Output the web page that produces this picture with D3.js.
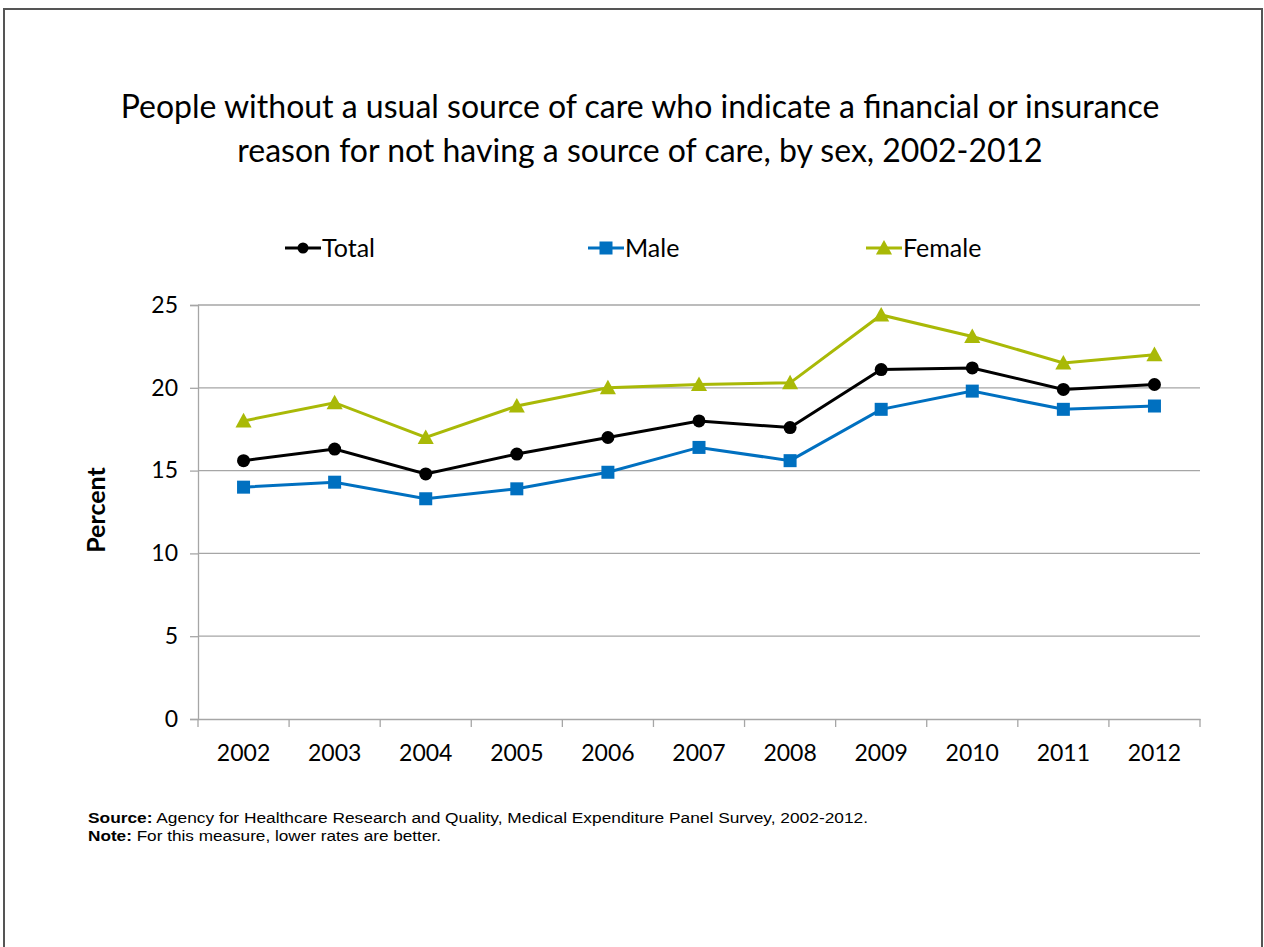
<!DOCTYPE html>
<html><head><meta charset="utf-8">
<script src="https://cdn.jsdelivr.net/npm/d3@7"></script>
<style>
html,body{margin:0;padding:0;background:#fff;}
svg{display:block;}
</style></head>
<body>
<svg id="chart" width="1264" height="947"></svg>
<script>
const years = ["2002","2003","2004","2005","2006","2007","2008","2009","2010","2011","2012"];
const totalValues  = [15.6,16.3,14.8,16.0,17.0,18.0,17.6,21.1,21.2,19.9,20.2];
const maleValues   = [14.0,14.3,13.3,13.9,14.9,16.4,15.6,18.7,19.8,18.7,18.9];
const femaleValues = [18.0,19.1,17.0,18.9,20.0,20.2,20.3,24.4,23.1,21.5,22.0];
const yTicks = [0,5,10,15,20,25];
const seriesNames = ["Total","Male","Female"];
const titleLines = ["People without a usual source of care who indicate a financial or insurance",
                    "reason for not having a source of care, by sex, 2002-2012"];

const series = [
  {name: seriesNames[0], values: totalValues,  color: "#000000", marker: "circle"},
  {name: seriesNames[1], values: maleValues,   color: "#0070C0", marker: "square"},
  {name: seriesNames[2], values: femaleValues, color: "#A9B907", marker: "triangle"}
];

const svg = d3.select("#chart");
const font = "Lato, 'Open Sans', sans-serif";

// outer frame
svg.append("path").attr("d","M4,947 L4,9 L1262,9 L1262,947")
  .attr("fill","none").attr("stroke","#555").attr("stroke-width",2);

// title
svg.append("g").selectAll("text").data(titleLines).enter().append("text")
  .attr("x",640).attr("y",(d,i)=>118+i*44)
  .attr("text-anchor","middle").attr("font-family",font).attr("font-size",32)
  .attr("fill","#000").text(d=>d);

const plotL = 198, plotR = 1200, plotT = 305, plotB = 719;
const x = d3.scaleBand().domain(years).range([plotL,plotR]);
const y = d3.scaleLinear().domain([0,25]).range([plotB,plotT]);

// gridlines
svg.append("g").selectAll("line").data(yTicks.filter(t=>t>0)).enter().append("line")
  .attr("x1",plotL).attr("x2",plotR).attr("y1",d=>y(d)).attr("y2",d=>y(d))
  .attr("stroke","#A6A6A6").attr("stroke-width",1.3);

// y axis
const yAxis = svg.append("g").attr("transform",`translate(${plotL},0)`)
  .call(d3.axisLeft(y).tickValues(yTicks).tickSize(8).tickPadding(12));
yAxis.select(".domain").attr("stroke","#A6A6A6").attr("stroke-width",1.3);
yAxis.selectAll(".tick line").attr("stroke","#A6A6A6").attr("stroke-width",1.3);
yAxis.selectAll("text").attr("font-family",font).attr("font-size",23).attr("fill","#000");

// x axis
const xAxis = svg.append("g").attr("transform",`translate(0,${plotB})`)
  .call(d3.axisBottom(x).tickSize(0).tickPadding(26));
xAxis.select(".domain").attr("stroke","#A6A6A6").attr("stroke-width",1.3);
xAxis.selectAll("text").attr("font-family",font).attr("font-size",23).attr("fill","#000");
const bounds = years.map(d=>x(d)).concat([plotR]);
svg.append("g").selectAll("line").data(bounds).enter().append("line")
  .attr("x1",d=>d).attr("x2",d=>d).attr("y1",plotB).attr("y2",plotB+8)
  .attr("stroke","#A6A6A6").attr("stroke-width",1.3);

// y label
svg.append("text").attr("transform","translate(105,510) rotate(-90)")
  .attr("text-anchor","middle").attr("font-family",font).attr("font-weight","bold")
  .attr("font-size",25).text("Percent");

const cx = d => x(d) + x.bandwidth()/2;
const line = d3.line().x((v,i)=>cx(years[i])).y(v=>y(v));

function drawMarker(g, type, color, px, py, s) {
  if (type==="circle") g.append("circle").attr("cx",px).attr("cy",py).attr("r",s*0.5).attr("fill",color);
  else if (type==="square") g.append("rect").attr("x",px-s/2).attr("y",py-s/2).attr("width",s).attr("height",s).attr("fill",color);
  else g.append("path").attr("d",`M${px},${py-s*0.62} L${px+s*0.62},${py+s*0.5} L${px-s*0.62},${py+s*0.5} Z`).attr("fill",color);
}

series.forEach(s=>{
  svg.append("path").datum(s.values).attr("d",line).attr("fill","none")
    .attr("stroke",s.color).attr("stroke-width",3);
  const g = svg.append("g");
  s.values.forEach((v,i)=>drawMarker(g,s.marker,s.color,cx(years[i]),y(v),13));
});

// legend
const legendX = [285,588,866];
series.forEach((s,i)=>{
  const g = svg.append("g");
  const lx = legendX[i], ly = 248;
  g.append("line").attr("x1",lx).attr("x2",lx+36).attr("y1",ly).attr("y2",ly)
    .attr("stroke",s.color).attr("stroke-width",3);
  drawMarker(g,s.marker,s.color,lx+18,ly,s.marker==="circle"?11:13);
  g.append("text").attr("x",lx+37).attr("y",ly+9).attr("font-family",font)
    .attr("font-size",25).text(s.name);
});

// notes
const notes = svg.append("g").attr("font-family","'Liberation Sans', Arial, sans-serif").attr("font-size",14);
const t1 = notes.append("text").attr("x",88).attr("y",823).attr("textLength",780).attr("lengthAdjust","spacingAndGlyphs");
t1.append("tspan").attr("font-weight","bold").text("Source:");
t1.append("tspan").text(" Agency for Healthcare Research and Quality, Medical Expenditure Panel Survey, 2002-2012.");
const t2 = notes.append("text").attr("x",88).attr("y",841).attr("textLength",353).attr("lengthAdjust","spacingAndGlyphs");
t2.append("tspan").attr("font-weight","bold").text("Note:");
t2.append("tspan").text(" For this measure, lower rates are better.");
</script>
</body></html>
